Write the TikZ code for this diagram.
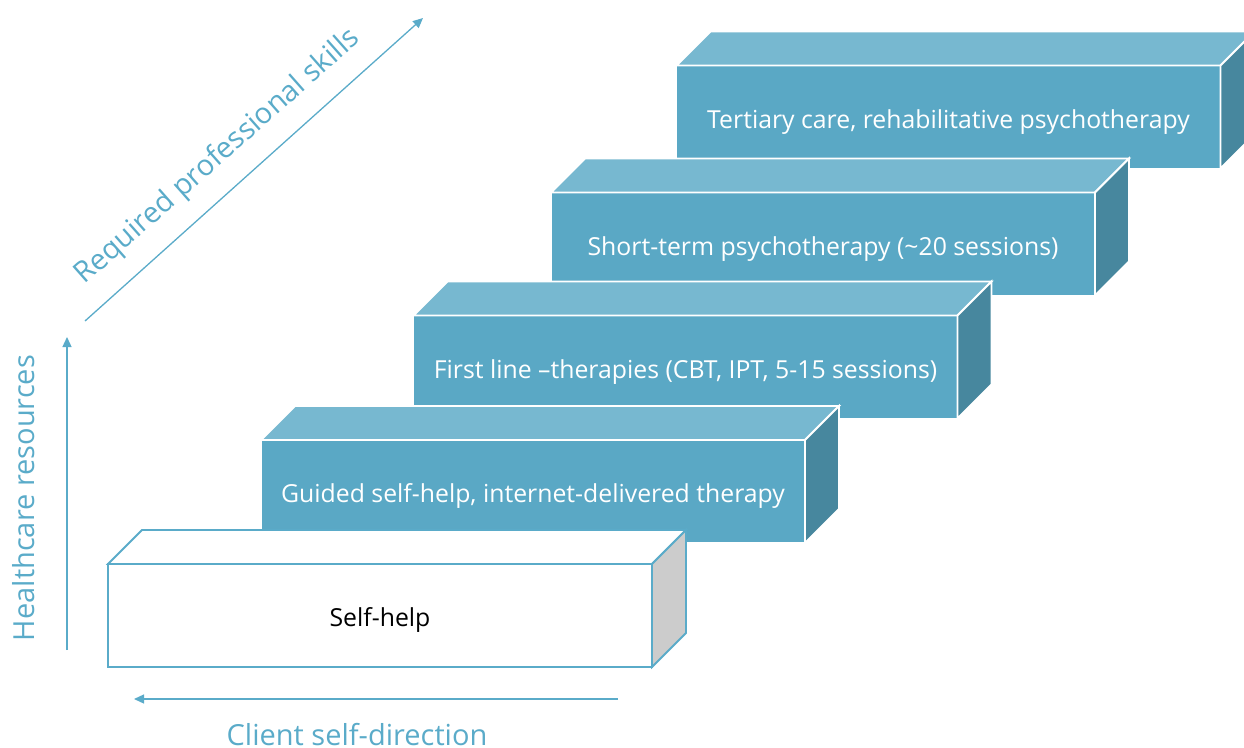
\documentclass[tikz,border=0pt]{standalone}
\usepackage{fontspec}
\setmainfont{Open Sans}
\usetikzlibrary{calc,arrows.meta}
\definecolor{frontblue}{HTML}{5AA8C5}
\definecolor{topblue}{HTML}{77B8D0}
\definecolor{sideblue}{HTML}{47879E}
\definecolor{axisblue}{HTML}{5AABC9}
\definecolor{sidegray}{HTML}{CCCCCC}
% top and right faces of a block, drawn from its front-face node
\newcommand\blockfaces[3]{%
  \draw[#2] (#1.north west) -- ++(34,-34) -- ($(#1.north east)+(34,-34)$) -- (#1.north east) -- cycle;
  \draw[#3] (#1.north east) -- ++(34,-34) -- ($(#1.south east)+(34,-34)$) -- (#1.south east) -- cycle;
}
\begin{document}
\begin{tikzpicture}[x=1pt,y=-1pt,line join=miter,
  frontface/.style={draw=white, line width=1.8pt, fill=frontblue, text=white,
    minimum width=544pt, minimum height=103pt, inner sep=0pt, outer sep=0pt,
    text height=22pt, text depth=0pt,
    font=\fontsize{24.8}{28}\selectfont},
  topface/.style={draw=white, line width=1.8pt, fill=topblue},
  sideface/.style={draw=white, line width=1.8pt, fill=sideblue},
  plainfront/.style={frontface, draw=axisblue, fill=white, text=black},
  plaintop/.style={draw=axisblue, line width=1.8pt, fill=white},
  plainside/.style={draw=axisblue, line width=1.8pt, fill=sidegray},
  axisarrow/.style={draw=axisblue, line width=1.3pt, -{Triangle[length=10pt,width=9pt]}},
  axislabel/.style={text=axisblue, inner sep=0pt, font=\fontsize{29}{32}\selectfont}
]
\useasboundingbox (0,0) rectangle (1244,747);
\clip (0,0) rectangle (1244,747);

% staircase of care levels, from the back step to the front step
\node[frontface] (b5) at (948.5,117) {Tertiary care, rehabilitative psychotherapy};
\blockfaces{b5}{topface}{sideface}
\node[frontface] (b4) at (823,244) {Short-term psychotherapy (\textasciitilde 20 sessions)};
\blockfaces{b4}{topface}{sideface}
\node[frontface] (b3) at (685.5,367) {First line –therapies (CBT, IPT, 5-15 sessions)};
\blockfaces{b3}{topface}{sideface}
\node[frontface] (b2) at (533,491.5) {Guided self-help, internet-delivered therapy};
\blockfaces{b2}{topface}{sideface}
\node[plainfront] (b1) at (380,615.5) {Self-help};
\blockfaces{b1}{plaintop}{plainside}

% axes
\coordinate (vs) at (67,650);
\coordinate (ve) at (67,337);
\coordinate (hs) at (618,699);
\coordinate (he) at (134,699);
\coordinate (ds) at (85,321);
\coordinate (de) at (423,18);
\draw[axisarrow] (vs) -- (ve);
\draw[axisarrow] (hs) -- (he);
\draw[axisarrow] (ds) -- (de);

\node[axislabel, rotate=90] (lh) at (24,498) {Healthcare resources};
\node[axislabel, text depth=0pt] (lc) at (357,734) {Client self-direction};
\node[axislabel, rotate=41.5] (lr) at (218,157) {Required professional skills};
\end{tikzpicture}
\end{document}
